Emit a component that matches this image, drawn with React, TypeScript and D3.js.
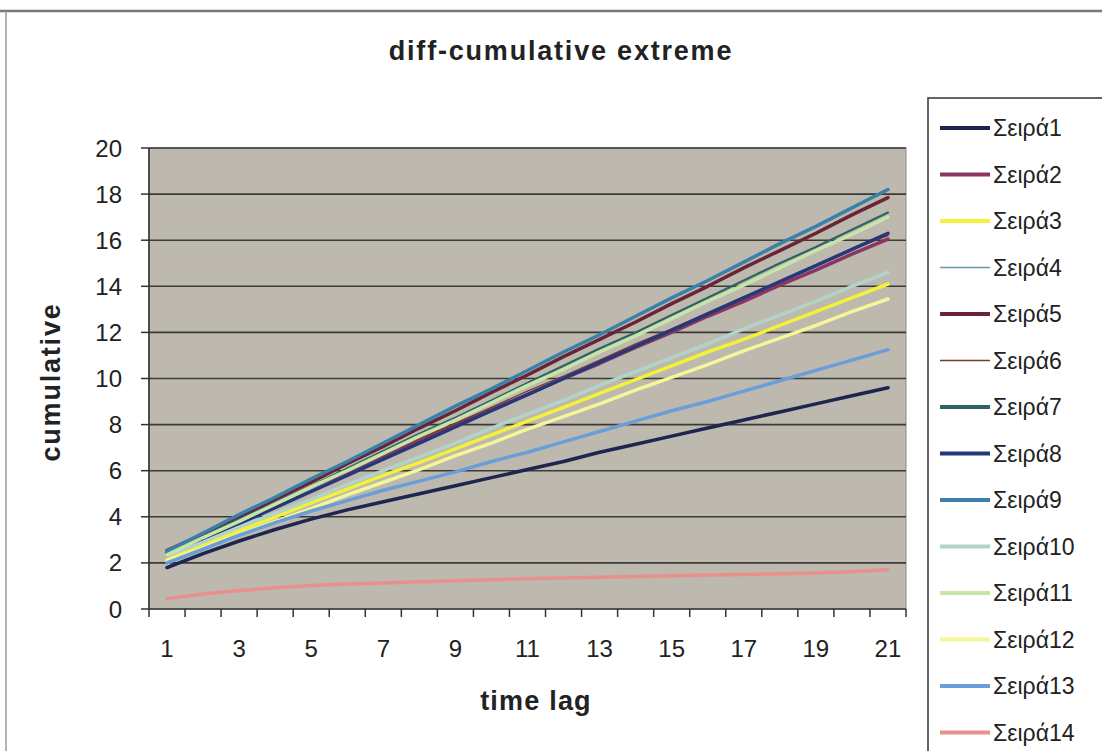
import React from "react";
import * as d3 from "d3";

const categories = d3.range(1, 22);
const tickLabels = [1, 3, 5, 7, 9, 11, 13, 15, 17, 19, 21];
const yTicks = [0, 2, 4, 6, 8, 10, 12, 14, 16, 18, 20];

const seriesNames = ["Σειρά1","Σειρά2","Σειρά3","Σειρά4","Σειρά5","Σειρά6","Σειρά7","Σειρά8","Σειρά9","Σειρά10","Σειρά11","Σειρά12","Σειρά13","Σειρά14"];
const seriesColors = ["#1e2550","#8b3560","#f2f23a","#6a9aa5","#6a2438","#7a3a30","#2e6363","#26387a","#3a80aa","#b2d4c8","#c8e4a8","#f5f59a","#6a9ed8","#e8908c"];
const seriesWidths = [3.5,3.5,3.5,1.3,3.5,1.3,2.2,3.5,3.5,3.5,3.5,3.5,3.5,3.5];

const s1 = [1.8,2.4,2.95,3.45,3.9,4.3,4.65,5.0,5.35,5.7,6.05,6.4,6.8,7.15,7.5,7.85,8.2,8.55,8.9,9.25,9.6];
const s2 = [2.55,3.25,3.95,4.6,5.3,5.95,6.65,7.3,8.0,8.65,9.3,10.0,10.65,11.35,12.0,12.7,13.35,14.05,14.7,15.4,16.05];
const s3 = [2.2,2.8,3.4,4.0,4.6,5.2,5.8,6.35,6.95,7.55,8.15,8.75,9.35,9.95,10.55,11.15,11.7,12.3,12.9,13.5,14.1];
const s4 = [2.45,3.2,3.9,4.65,5.35,6.1,6.8,7.55,8.25,9.0,9.7,10.45,11.15,11.9,12.6,13.35,14.05,14.8,15.5,16.25,16.95];
const s5 = [2.45,3.2,4.0,4.75,5.5,6.3,7.05,7.85,8.6,9.4,10.15,10.95,11.7,12.45,13.25,14.0,14.8,15.55,16.3,17.1,17.85];
const s6 = [2.5,3.2,3.9,4.6,5.3,6.0,6.7,7.4,8.05,8.75,9.45,10.1,10.8,11.5,12.15,12.85,13.55,14.2,14.9,15.6,16.2];
const s7 = [2.4,3.15,3.9,4.6,5.35,6.1,6.85,7.6,8.3,9.05,9.8,10.55,11.3,12.0,12.75,13.5,14.25,15.0,15.7,16.45,17.2];
const s8 = [2.3,3.0,3.7,4.4,5.1,5.8,6.5,7.2,7.9,8.6,9.3,10.0,10.7,11.4,12.1,12.8,13.5,14.2,14.9,15.6,16.3];
const s9 = [2.5,3.3,4.1,4.85,5.65,6.4,7.2,8.0,8.8,9.55,10.35,11.15,11.9,12.7,13.5,14.25,15.05,15.85,16.6,17.4,18.2];
const s10 = [2.3,2.9,3.55,4.15,4.75,5.4,6.0,6.6,7.2,7.85,8.45,9.05,9.7,10.3,10.9,11.5,12.15,12.75,13.35,14.0,14.6];
const s11 = [2.35,3.1,3.8,4.55,5.3,6.0,6.75,7.5,8.2,8.95,9.7,10.4,11.15,11.85,12.6,13.35,14.05,14.8,15.55,16.25,17.0];
const s12 = [2.1,2.65,3.25,3.8,4.35,4.95,5.5,6.05,6.65,7.2,7.8,8.35,8.9,9.5,10.05,10.6,11.2,11.75,12.3,12.9,13.45];
const s13 = [2.0,2.6,3.2,3.75,4.25,4.7,5.15,5.55,5.95,6.4,6.8,7.25,7.7,8.15,8.6,9.0,9.45,9.9,10.35,10.8,11.25];
const s14 = [0.45,0.65,0.8,0.92,1.02,1.08,1.13,1.18,1.23,1.27,1.31,1.35,1.38,1.41,1.44,1.47,1.5,1.53,1.56,1.62,1.7];

const seriesValues = [s1,s2,s3,s4,s5,s6,s7,s8,s9,s10,s11,s12,s13,s14];

export default function App() {
  const W = 1102, H = 751;
  const plot = { left: 149, right: 906, top: 148, bottom: 609 };
  const x = d3.scaleBand<number>().domain(categories).range([plot.left, plot.right]).padding(0);
  const y = d3.scaleLinear().domain([0, 20]).range([plot.bottom, plot.top]);
  const line = d3.line<number>().x((_, i) => (x(categories[i]) as number) + x.bandwidth() / 2).y((d) => y(d));
  const font = "'Liberation Sans', Arial, sans-serif";
  const legendTop = 128;
  const legendStep = 46.5;

  return (
    <svg width={W} height={H} style={{ position: "absolute", left: 0, top: 0, background: "#fff" }} fontFamily={font}>
      <rect x={0} y={0} width={W} height={H} fill="#fff" />
      <line x1={0} x2={W} y1={11} y2={11} stroke="#7a7a7a" strokeWidth={2.5} />
      <line x1={6} x2={6} y1={11} y2={H} stroke="#9a9a9a" strokeWidth={1.5} />
      <text x={561} y={60} textAnchor="middle" fontSize={27} fontWeight="bold" letterSpacing={1.8} fill="#222">diff-cumulative extreme</text>

      <rect x={plot.left} y={plot.top} width={plot.right - plot.left} height={plot.bottom - plot.top} fill="#bdb9ae" stroke="#8a8a8a" strokeWidth={1} />
      {yTicks.map((t) => (
        <g key={"y" + t}>
          {t > 0 && <line x1={plot.left} x2={plot.right} y1={y(t)} y2={y(t)} stroke="#3a3a36" strokeWidth={1.6} />}
          <line x1={plot.left - 8} x2={plot.left} y1={y(t)} y2={y(t)} stroke="#333" strokeWidth={1.5} />
          <text x={122} y={y(t) + 8.5} textAnchor="end" fontSize={24} fill="#222">{t}</text>
        </g>
      ))}
      <line x1={plot.left} x2={plot.left} y1={plot.top} y2={plot.bottom} stroke="#333" strokeWidth={1.6} />
      <line x1={plot.left} x2={plot.right} y1={plot.bottom} y2={plot.bottom} stroke="#333" strokeWidth={1.6} />
      {categories.map((c) => (
        <line key={"xt" + c} x1={x(c) as number} x2={x(c) as number} y1={plot.bottom} y2={plot.bottom + 8} stroke="#333" strokeWidth={1.5} />
      ))}
      <line x1={plot.right} x2={plot.right} y1={plot.bottom} y2={plot.bottom + 8} stroke="#333" strokeWidth={1.5} />
      {tickLabels.map((t) => (
        <text key={"xl" + t} x={(x(t) as number) + x.bandwidth() / 2} y={657} textAnchor="middle" fontSize={24} fill="#222">{t}</text>
      ))}

      {seriesValues.map((vals, i) => (
        <path key={"s" + i} d={line(vals) || ""} fill="none" stroke={seriesColors[i]} strokeWidth={seriesWidths[i]} strokeLinejoin="round" strokeLinecap="round" />
      ))}

      <text x={536} y={710} textAnchor="middle" fontSize={27} fontWeight="bold" letterSpacing={1.2} fill="#222">time lag</text>
      <text transform={`translate(60,382) rotate(-90)`} textAnchor="middle" fontSize={27} fontWeight="bold" letterSpacing={1.8} fill="#222">cumulative</text>

      <rect x={928} y={98} width={200} height={700} fill="#fff" stroke="#333" strokeWidth={1.5} />
      {seriesNames.map((n, i) => (
        <g key={"lg" + i}>
          <line x1={940} x2={990} y1={legendTop + i * legendStep} y2={legendTop + i * legendStep} stroke={seriesColors[i]} strokeWidth={seriesWidths[i] === 1.3 ? 1.3 : 4} />
          <text x={993} y={legendTop + i * legendStep + 8} fontSize={23} fill="#222">{n}</text>
        </g>
      ))}
    </svg>
  );
}
